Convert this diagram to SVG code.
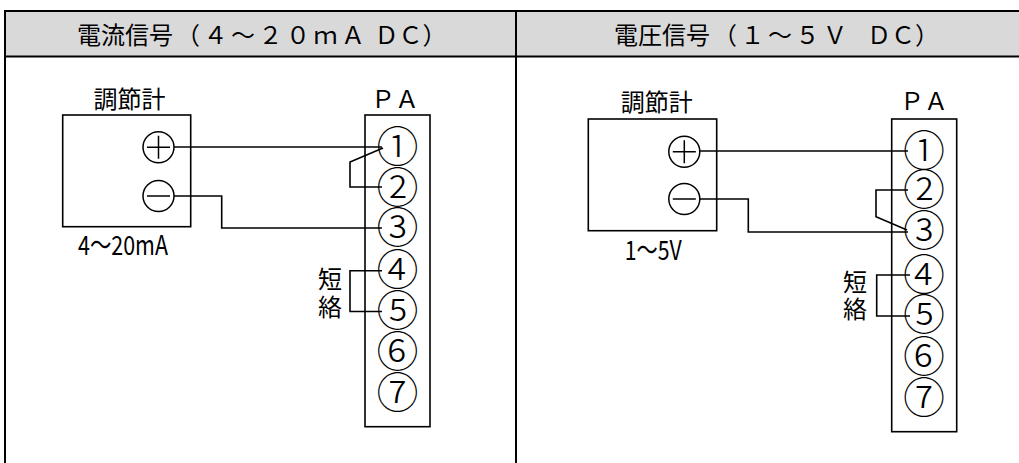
<svg xmlns="http://www.w3.org/2000/svg" width="1019" height="463" viewBox="0 0 1019 463">
<style>
text{font-family:"Noto Sans CJK JP","Noto Sans CJK SC",sans-serif;fill:#000}
.hd{font-size:24px}
.lb{font-size:24px;text-anchor:middle}
.num{font-size:42px;font-weight:300;text-anchor:middle}
.box{fill:#fff;stroke:#000;stroke-width:1.6}
.sym{fill:none;stroke:#000;stroke-width:1.5}
.wire{fill:none;stroke:#000;stroke-width:1.6}
.tb{stroke:#000;stroke-width:2;fill:none}
</style>
<g id="table">
<rect x="5" y="11" width="1014" height="46" fill="#d9d9d9"/>
<line class="tb" x1="5" y1="11" x2="1019" y2="11"/>
<line class="tb" x1="5" y1="56.5" x2="1019" y2="56.5"/>
<line class="tb" x1="5" y1="10" x2="5" y2="463"/>
<line class="tb" x1="516" y1="10" x2="516" y2="463"/>
<text class="hd" x="77" y="44">電流信号<tspan dx="3" letter-spacing="3.5">（４～２０ｍＡ</tspan><tspan dx="0.5"> ＤＣ）</tspan></text>
<text class="hd" x="614" y="44">電圧信号<tspan dx="3" letter-spacing="3.5">（１～５Ｖ</tspan><tspan dx="11"> ＤＣ）</tspan></text>
</g>
<g id="controller-left">
<rect class="box" x="62.7" y="115" width="128" height="111.7"/>
<text class="lb" x="129.5" y="108">調節計</text>
<circle class="sym" cx="158.5" cy="147.3" r="15.5"/>
<path class="sym" d="M147,147.3 H170 M158.5,135.8 V158.8"/>
<circle class="sym" cx="158.5" cy="196" r="15.5"/>
<path class="sym" d="M147,196 H170"/>
<text x="123" y="255" font-size="27" text-anchor="middle" textLength="90" lengthAdjust="spacingAndGlyphs">4～20mA</text>
</g>
<g id="pa-left">
<rect class="box" x="365" y="115" width="65" height="311.7"/>
<text class="lb" x="395" y="108">ＰＡ</text>
<text class="num" x="397.5" y="161.7">①</text>
<text class="num" x="397.5" y="202.7">②</text>
<text class="num" x="397.5" y="243.2">③</text>
<text class="num" x="397.5" y="285.2">④</text>
<text class="num" x="397.5" y="325.7">⑤</text>
<text class="num" x="397.5" y="366.7">⑥</text>
<text class="num" x="397.5" y="407.7">⑦</text>
<text class="lb"><tspan x="330" y="288">短</tspan><tspan x="330" y="315.5">絡</tspan></text>
</g>
<g id="controller-right">
<rect class="box" x="588.3" y="119" width="128.4" height="111.7"/>
<text class="lb" x="656.7" y="111">調節計</text>
<circle class="sym" cx="684.3" cy="151.7" r="15.5"/>
<path class="sym" d="M672.8,151.7 H695.8 M684.3,140.2 V163.2"/>
<circle class="sym" cx="684.3" cy="199" r="15.5"/>
<path class="sym" d="M672.8,199 H695.8"/>
<text x="653.3" y="260" font-size="27" text-anchor="middle" textLength="57" lengthAdjust="spacingAndGlyphs">1～5V</text>
</g>
<g id="pa-right">
<rect class="box" x="891.7" y="119" width="65" height="312.7"/>
<text class="lb" x="924" y="110">ＰＡ</text>
<text class="num" x="924" y="165.7">①</text>
<text class="num" x="924" y="205.2">②</text>
<text class="num" x="924" y="246.2">③</text>
<text class="num" x="924" y="289.7">④</text>
<text class="num" x="924" y="330.2">⑤</text>
<text class="num" x="924" y="371.7">⑥</text>
<text class="num" x="924" y="412.7">⑦</text>
<text class="lb"><tspan x="855" y="290.5">短</tspan><tspan x="855" y="317.5">絡</tspan></text>
</g>
<g id="connectors">
<path class="wire" d="M174,147 H382"/>
<path class="wire" d="M174,196 H221.7 V228 H382"/>
<path class="wire" d="M383,148 L350,162 V187 H382"/>
<path class="wire" d="M382,270.7 H350 V311.5 H382"/>
<path class="wire" d="M700,151 H908"/>
<path class="wire" d="M700,199 H748.3 V232 H908"/>
<path class="wire" d="M908,190 H876 V216.7 L907,230"/>
<path class="wire" d="M910,275 H876.7 V316 H910"/>
</g>
</svg>
